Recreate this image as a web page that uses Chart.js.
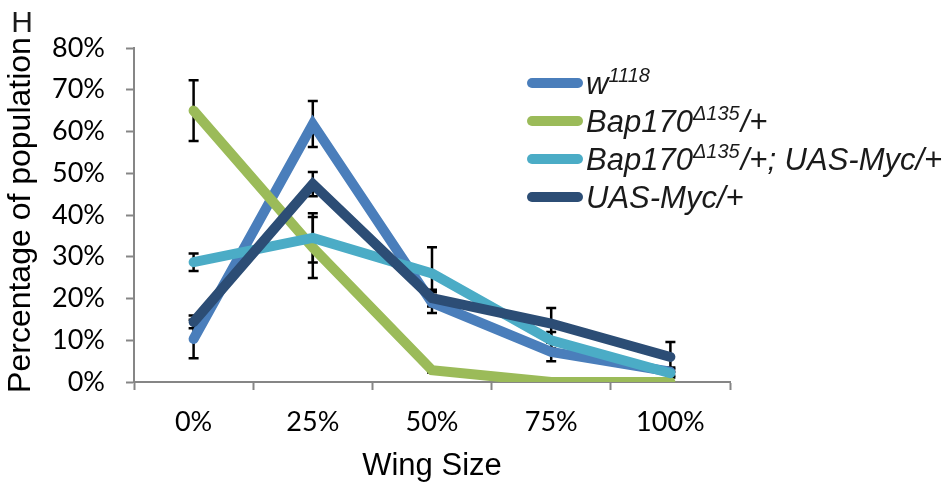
<!DOCTYPE html>
<html>
<head>
<meta charset="utf-8">
<script src="https://cdn.jsdelivr.net/npm/chart.js@4.4.1/dist/chart.umd.min.js"></script>
<style>
  html, body { margin: 0; padding: 0; background: #ffffff; }
  #wrap { width: 951px; height: 490px; position: relative; }
</style>
</head>
<body>
<div id="wrap"><canvas id="chart" width="951" height="490"></canvas></div>
<script>
// Wing size classes on the x axis
const wingSizes = ['0%', '25%', '50%', '75%', '100%'];

// Percentage of population in each wing size class, per genotype
const w1118 = [10.3, 61.8, 19.0, 7.2, 2.5];
const bap170 = [65.0, 32.2, 2.8, 0, 0];
const bap170Myc = [28.7, 34.5, 26.0, 10.0, 2.1];
const uasMyc = [14.4, 47.4, 20.1, 14.0, 6.0];

// Error bar half-lengths (same units)
const w1118Err = [4.6, 5.5, 2.5, 2.2, 1.0];
const bap170Err = [7.3, 7.3, 0.5, 0, 0];
const bap170MycErr = [2.1, 5.9, 6.3, 2.0, 1.0];
const uasMycErr = [1.5, 2.9, 2.0, 3.7, 3.6];

// Legend text pieces: plain runs and superscript runs
const legendW1118 = [['w', false], ['1118', true]];
const legendBap170 = [['Bap170', false], ['\u0394135', true], ['/+', false]];
const legendBap170Myc = [['Bap170', false], ['\u0394135', true], ['/+; UAS-Myc/+', false]];
const legendUasMyc = [['UAS-Myc/+', false]];

const yTicks = [0, 10, 20, 30, 40, 50, 60, 70, 80];

const AXIS_GREY = '#868686';

const datasets = [
  { label: 'w1118', data: w1118, err: w1118Err, legend: legendW1118, borderColor: '#4A7EBB', order: 3 },
  { label: 'Bap170\u0394135/+', data: bap170, err: bap170Err, legend: legendBap170, borderColor: '#9BBB59', order: 2 },
  { label: 'Bap170\u0394135/+; UAS-Myc/+', data: bap170Myc, err: bap170MycErr, legend: legendBap170Myc, borderColor: '#4BACC6', order: 1 },
  { label: 'UAS-Myc/+', data: uasMyc, err: uasMycErr, legend: legendUasMyc, borderColor: '#2C4D75', order: 0 }
].map(d => Object.assign(d, {
  borderWidth: 10,
  borderCapStyle: 'round',
  borderJoinStyle: 'miter',
  pointRadius: 0,
  pointHoverRadius: 0,
  tension: 0,
  fill: false
}));

// Vertical error bars with short caps, drawn beneath the series lines
const errorBars = {
  id: 'errorBars',
  beforeDatasetsDraw(chart) {
    const { ctx, scales: { x, y } } = chart;
    ctx.save();
    ctx.strokeStyle = '#000000';
    ctx.lineWidth = 2.5;
    ctx.lineCap = 'butt';
    chart.data.datasets.forEach(ds => {
      ds.data.forEach((v, i) => {
        const e = ds.err[i];
        if (!e) return;
        const px = x.getPixelForValue(i);
        const top = y.getPixelForValue(v + e);
        const bot = y.getPixelForValue(Math.max(0, v - e));
        ctx.beginPath();
        ctx.moveTo(px, top); ctx.lineTo(px, bot);
        ctx.moveTo(px - 5, top); ctx.lineTo(px + 5, top);
        ctx.moveTo(px - 5, bot); ctx.lineTo(px + 5, bot);
        ctx.stroke();
      });
    });
    ctx.restore();
  }
};

// Legend with superscripted genotype names, plus the panel letter
const richLegend = {
  id: 'richLegend',
  afterDraw(chart) {
    const { ctx } = chart;
    ctx.save();
    const x0 = 532, x1 = 578, textX = 586;
    const rows = [83, 121, 159, 197];
    chart.data.datasets.forEach((ds, k) => {
      const cy = rows[k];
      ctx.strokeStyle = ds.borderColor;
      ctx.lineWidth = 10;
      ctx.lineCap = 'round';
      ctx.beginPath();
      ctx.moveTo(x0, cy); ctx.lineTo(x1, cy);
      ctx.stroke();
      let tx = textX;
      const base = cy + 11;
      ctx.fillStyle = '#1a1a1a';
      ctx.textBaseline = 'alphabetic';
      ctx.textAlign = 'left';
      ds.legend.forEach(([t, sup]) => {
        ctx.font = sup ? 'italic 20px "Liberation Sans", Arial, sans-serif'
                       : 'italic 31px "Liberation Sans", Arial, sans-serif';
        ctx.fillText(t, tx, sup ? base - 12 : base);
        tx += ctx.measureText(t).width + (sup ? 1 : 0);
      });
    });
    ctx.font = '30px "Liberation Sans", Arial, sans-serif';
    ctx.fillStyle = '#1a1a1a';
    ctx.textAlign = 'center';
    ctx.textBaseline = 'middle';
    ctx.fillText('H', 22, 24);
    ctx.restore();
  }
};

new Chart(document.getElementById('chart'), {
  type: 'line',
  data: { labels: wingSizes, datasets },
  plugins: [errorBars, richLegend],
  options: {
    responsive: false,
    animation: false,
    events: [],
    layout: { padding: { left: 0, top: 48, right: 221, bottom: 0 } },
    plugins: { legend: { display: false }, tooltip: { enabled: false }, title: { display: false } },
    scales: {
      x: {
        type: 'category',
        offset: true,
        afterFit(s) { s.height = 108; },
        grid: { offset: true, drawOnChartArea: false, drawTicks: true, tickLength: 8, tickColor: AXIS_GREY, tickWidth: 2 },
        border: { color: AXIS_GREY, width: 2 },
        ticks: { color: '#000000', font: { family: 'Lato, "Open Sans", sans-serif', size: 27 }, padding: 16, maxRotation: 0 },
        title: { display: true, text: 'Wing Size', color: '#000000', font: { family: '"Liberation Sans", Arial, sans-serif', size: 31 }, padding: { top: 0, bottom: 5 } }
      },
      y: {
        min: 0,
        max: 80,
        afterFit(s) { s.width = 134; },
        afterBuildTicks(s) { s.ticks = yTicks.map(v => ({ value: v })); },
        grid: { drawOnChartArea: false, drawTicks: true, tickLength: 8, tickColor: AXIS_GREY, tickWidth: 2 },
        border: { color: AXIS_GREY, width: 2 },
        ticks: { color: '#000000', font: { family: 'Lato, "Open Sans", sans-serif', size: 27 }, padding: 21, callback: v => v + '%' },
        title: { display: true, text: 'Percentage of population', color: '#000000', font: { family: '"Liberation Sans", Arial, sans-serif', size: 32 }, padding: { top: 2, bottom: 0 } }
      }
    }
  }
});
</script>
</body>
</html>
